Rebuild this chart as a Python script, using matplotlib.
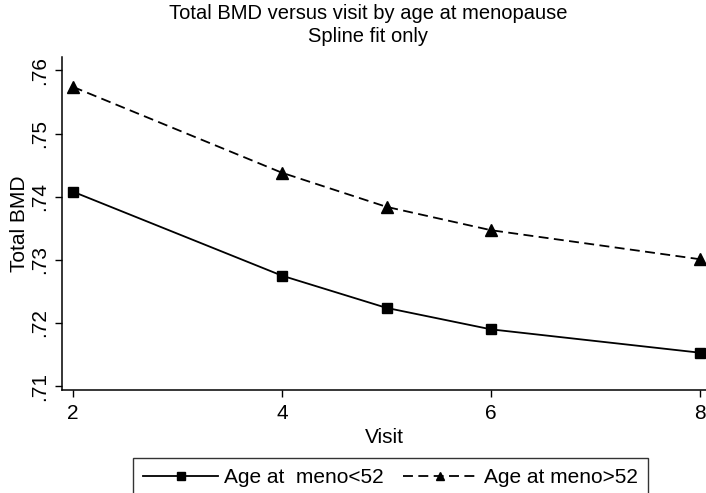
import matplotlib
matplotlib.use('Agg')
import matplotlib.pyplot as plt

plt.rcParams['font.family'] = ['Liberation Sans', 'DejaVu Sans']

# spline fit of total BMD at each visit
visit = [2, 4, 5, 6, 8]
bmd_low = [0.7408, 0.7275, 0.7224, 0.7190, 0.7153]    # age at meno < 52
bmd_high = [0.7574, 0.7438, 0.7384, 0.7347, 0.7301]   # age at meno > 52
yticks = [0.71, 0.72, 0.73, 0.74, 0.75, 0.76]
ytick_labels = ['.71', '.72', '.73', '.74', '.75', '.76']
xticks = [2, 4, 6, 8]

fs = 15

fig = plt.figure(figsize=(7.06, 4.93), dpi=100)
ax = fig.add_axes([0.0878, 0.209, 0.9122, 0.675])

l1, = ax.plot(visit, bmd_low, color='black', lw=1.3, marker='s', markersize=7.5,
              label='Age at  meno<52')
l2, = ax.plot(visit, bmd_high, color='black', lw=1.3, ls=(0, (5.5, 3)), marker='^',
              markersize=8.5, label='Age at meno>52')

ax.set_xlim(1.895, 8.057)
ax.set_ylim(0.7094, 0.7621)
ax.set_xticks(xticks)
ax.set_yticks(yticks)
ax.set_yticklabels(ytick_labels, rotation=90, va='center')
ax.tick_params(direction='out', length=5, width=1, labelsize=fs, colors='black', pad=5)
ax.tick_params(axis='y', pad=4)
ax.spines['top'].set_visible(False)
ax.spines['right'].set_visible(False)
ax.spines['left'].set_linewidth(1.1)
ax.spines['bottom'].set_linewidth(1.1)

ax.set_xlabel('Visit', fontsize=fs, labelpad=4)
ax.set_ylabel('Total BMD', fontsize=fs, labelpad=1)

fig.text(0.521, 0.972, 'Total BMD versus visit by age at menopause',
         ha='center', va='center', fontsize=14.5)
fig.text(0.521, 0.926, 'Spline fit only', ha='center', va='center', fontsize=14.5)

# legend frame runs off the bottom of the figure
leg = fig.legend(handles=[l1, l2], loc='upper center', bbox_to_anchor=(0.553, 0.071),
                 ncol=2, fontsize=fs, frameon=True, fancybox=False, handlelength=3.6,
                 numpoints=1, columnspacing=0.9, handletextpad=0.3, borderpad=0.5,
                 borderaxespad=0, markerscale=0.75)
leg.get_frame().set_edgecolor('black')
leg.get_frame().set_linewidth(1.0)

fig.savefig('out.png', dpi=100)
